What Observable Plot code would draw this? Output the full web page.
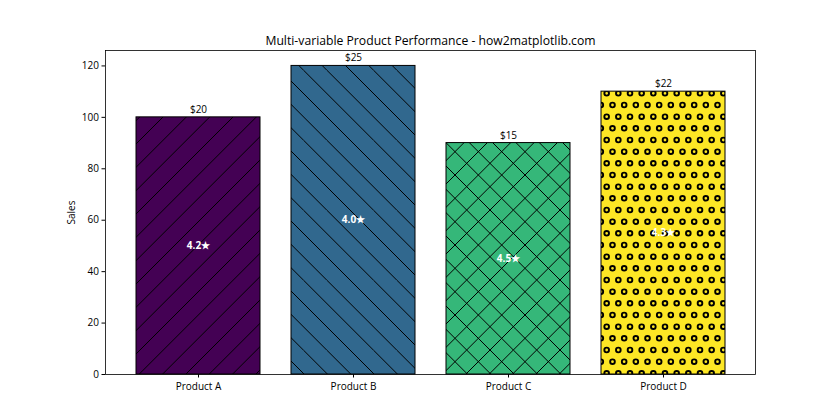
<!DOCTYPE html>
<html><head><meta charset="utf-8">
<script src="https://cdn.jsdelivr.net/npm/d3@7"></script>
<script src="https://cdn.jsdelivr.net/npm/@observablehq/plot@0.6"></script>
<style>body{margin:0;background:#fff}#chart svg{display:block}</style>
</head><body><div id="chart"></div>
<script>
const products = ["Product A", "Product B", "Product C", "Product D"];
const sales = [100, 120, 90, 110];
const prices = [20, 25, 15, 22];
const ratings = [4.2, 4.0, 4.5, 4.3];
const hatches = ["/", "\\", "x", "o"];
const barColors = ["#440154", "#31688e", "#35b779", "#fde725"];
const yTicks = [0, 20, 40, 60, 80, 100, 120];
const titleText = "Multi-variable Product Performance - how2matplotlib.com";

const FONT = "'Open Sans', sans-serif";
const data = products.map((p, i) => ({
  product: p, sales: sales[i], price: prices[i], rating: ratings[i], pat: `url(#hatch${i})`
}));

const svg = Plot.plot({
  width: 840, height: 420,
  marginLeft: 105, marginRight: 85, marginTop: 50, marginBottom: 46,
  style: {fontFamily: FONT, fontSize: "10px", color: "black", background: "white"},
  x: {domain: products, paddingInner: 0.2, paddingOuter: 0.19, label: null},
  y: {domain: [0, 126], label: null},
  color: {type: "identity"},
  marks: [
    Plot.barY(data, {x: "product", y: "sales", fill: "pat", stroke: "black", strokeWidth: 1}),
    Plot.text(data, {x: "product", y: "sales", text: d => `$${d.price}`, lineAnchor: "bottom", dy: -4.5, fill: "black", fontSize: 10}),
    Plot.text(data, {x: "product", y: d => d.sales / 2, text: d => `${d.rating.toFixed(1)}★`, fill: "white", fontWeight: "bold", fontSize: 10}),
    Plot.frame({stroke: "black", strokeWidth: 0.8}),
    Plot.axisY({ticks: yTicks, tickSize: 3.5, tickPadding: 3, label: "Sales", labelAnchor: "center", labelArrow: "none", labelOffset: 38, fontSize: 10}),
    Plot.axisX({tickSize: 3.5, tickPadding: 5, label: null, fontSize: 10}),
    Plot.text([titleText], {frameAnchor: "top", dy: -6, lineAnchor: "bottom", text: d => d, fontSize: 12.2, fill: "black"})
  ]
});

// hatch patterns (70px hatch unit, matplotlib density 6)
const U = 70, step = U / 3, rowStep = U / 6;
const defs = d3.select(svg).insert("defs", ":first-child");
hatches.forEach((h, i) => {
  const p = defs.append("pattern").attr("id", `hatch${i}`)
    .attr("patternUnits", "userSpaceOnUse").attr("x", 0).attr("y", 0)
    .attr("width", U).attr("height", U);
  p.append("rect").attr("width", U).attr("height", U).attr("fill", barColors[i]);
  const g = p.append("g").attr("stroke", "black").attr("stroke-width", 1).attr("fill", "none");
  if (h === "/" || h === "x")
    for (let k = -3; k <= 3; k++)
      g.append("line").attr("x1", k * step).attr("y1", U).attr("x2", k * step + U).attr("y2", 0);
  if (h === "\\" || h === "x")
    for (let k = -3; k <= 3; k++)
      g.append("line").attr("x1", k * step).attr("y1", 0).attr("x2", k * step + U).attr("y2", U);
  if (h === "o")
    for (let j = 0; j <= 6; j++) {
      const off = (j % 2) ? rowStep / 2 : 0;
      for (let c = -1; c <= 6; c++) {
        const cx = off + c * rowStep;
        g.append("circle").attr("cx", cx).attr("cy", j * rowStep).attr("r", rowStep * 0.2).attr("stroke-width", 1.9);
      }
    }
});
document.getElementById("chart").appendChild(svg);
</script>
</body></html>
